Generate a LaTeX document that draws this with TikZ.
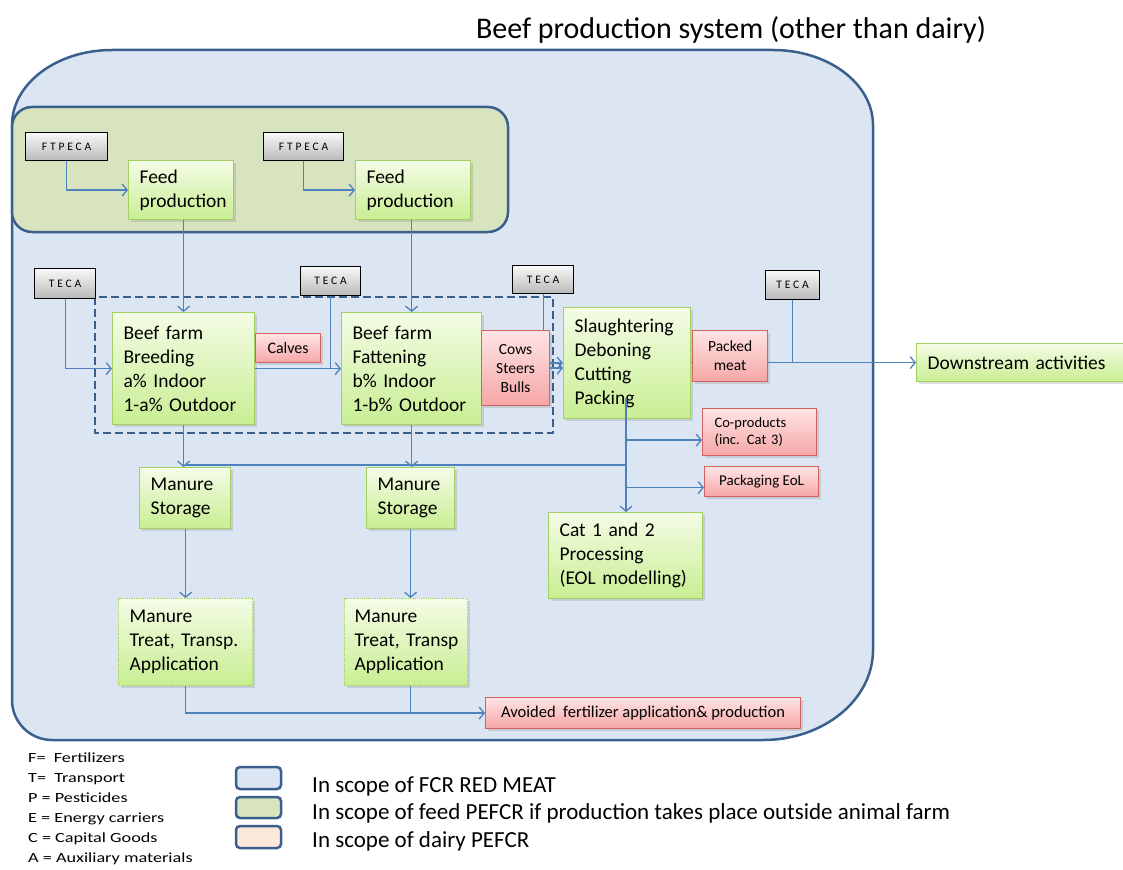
\documentclass[tikz,border=0pt]{standalone}
\usepackage{fontspec}
\setmainfont{Carlito}
\usetikzlibrary{arrows.meta,shadows}
\definecolor{scopefill}{HTML}{DCE6F2}
\definecolor{scopeline}{HTML}{3A5F8C}
\definecolor{feedfill}{HTML}{D7E4BD}
\definecolor{dairyfill}{HTML}{FDE9D9}
\definecolor{flowblue}{HTML}{4F81BD}
\definecolor{proctop}{HTML}{F4FCE6}
\definecolor{procbot}{HTML}{C8EE92}
\definecolor{procline}{HTML}{A2D062}
\definecolor{redtop}{HTML}{FFE4E4}
\definecolor{redbot}{HTML}{F6A6A6}
\definecolor{redline}{HTML}{D36262}
\pgfdeclarelayer{back}
\pgfdeclarelayer{mid}
\pgfsetlayers{back,mid,main}
\tikzset{
  procbox/.style={draw=procline, line width=1.2pt, top color=proctop, bottom color=procbot,
    anchor=north west, align=left, inner xsep=11pt, inner ysep=0pt,
    font=\fontsize{19.5}{24}\selectfont,
    drop shadow={shadow xshift=2pt, shadow yshift=-2pt, opacity=.25}},
  redbox/.style={draw=redline, line width=1.2pt, top color=redtop, bottom color=redbot,
    anchor=north west, align=center, inner sep=0pt,
    font=\fontsize{16}{19}\selectfont,
    drop shadow={shadow xshift=2pt, shadow yshift=-2pt, opacity=.25}},
  tecabox/.style={draw=black, line width=1.3pt, top color=gray!5, bottom color=gray!55,
    anchor=north west, inner sep=0pt,
    font=\fontsize{11.5}{12}\selectfont\addfontfeature{LetterSpace=25}},
  flow/.style={draw=flowblue, line width=1.3pt, -{Straight Barb[length=5pt,width=12pt]}},
  link/.style={draw=flowblue, line width=1.3pt},
  keybox/.style={draw=scopeline, line width=2.5pt, rounded corners=4pt}
}
\begin{document}
\begin{tikzpicture}[x=1pt,y=1pt]
\useasboundingbox (0,0) rectangle (1123,-869);
% title
\node[font=\fontsize{30}{34}\selectfont] (title) at (731,-30) {Beef production system (other than dairy)};

% boxes
\node[tecabox, minimum width=82, minimum height=28] (ftp1) at (25,-132) {FTPECA};
\node[tecabox, minimum width=80, minimum height=28] (ftp2) at (263,-132) {FTPECA};
\node[procbox, text width=83, minimum height=59] (feed1) at (128,-160) {Feed\\production};
\node[procbox, text width=93, minimum height=59] (feed2) at (355,-160) {Feed\\production};

\node[tecabox, minimum width=61, minimum height=30] (teca1) at (34,-268) {TECA};
\node[tecabox, minimum width=60, minimum height=29] (teca2) at (300,-266) {TECA};
\node[tecabox, minimum width=61, minimum height=28] (teca3) at (512,-265) {TECA};
\node[tecabox, minimum width=54, minimum height=29] (teca4) at (765,-270) {TECA};

\node[procbox, text width=120, minimum height=112] (breed) at (112,-312) {Beef farm\\Breeding\\a\% Indoor\\1-a\% Outdoor};
\node[redbox, minimum width=65, minimum height=29] (calves) at (255,-333) {Calves};
\node[procbox, text width=118, minimum height=112] (fatt) at (341,-312) {Beef farm\\Fattening\\b\% Indoor\\1-b\% Outdoor};
\node[redbox, minimum width=68, minimum height=75, font=\fontsize{15.5}{19}\selectfont] (cows) at (481,-330) {Cows\\Steers\\Bulls};
\node[procbox, text width=105, minimum height=111] (slau) at (563,-307) {Slaughtering\\Deboning\\Cutting\\Packing};
\node[redbox, minimum width=75, minimum height=51, font=\fontsize{15.5}{19}\selectfont] (packed) at (692,-330) {Packed\\meat};
\node[procbox, text width=185, minimum height=38] (down) at (916,-343) {Downstream activities};

\node[redbox, align=left, text width=90, minimum height=47, inner xsep=12pt,
  font=\fontsize{14.5}{17}\selectfont] (coprod) at (702,-408) {Co-products\\(inc. Cat 3)};
\node[redbox, minimum width=114, minimum height=30,
  font=\fontsize{15}{15}\selectfont] (packeol) at (704,-466) {Packaging EoL};
\node[procbox, text width=132, minimum height=86] (cat) at (548,-512) {Cat 1 and 2\\Processing\\(EOL modelling)};

\node[procbox, text width=69, minimum height=61] (ms1) at (139,-467) {Manure\\Storage};
\node[procbox, text width=66, minimum height=61] (ms2) at (366,-467) {Manure\\Storage};
\node[procbox, densely dotted, text width=112, minimum height=87] (mt1) at (118,-598) {Manure\\Treat,~Transp.\\Application};
\node[procbox, densely dotted, text width=103, inner xsep=10pt, minimum height=87] (mt2) at (344,-598) {Manure\\Treat,~Transp\\Application};
\node[redbox, minimum width=315, minimum height=31,
  font=\fontsize{16.5}{17}\selectfont] (avoid) at (485,-697) {Avoided\ \ fertilizer application\&{} production};

% scope areas
\begin{pgfonlayer}{back}
\draw[fill=scopefill, draw=scopeline, line width=2.5pt]
  (12,-700) -- (12,-125) arc[start angle=180, end angle=90, x radius=100, y radius=75]
  -- (773,-50) arc[start angle=90, end angle=0, x radius=100, y radius=75]
  -- (873,-650) arc[start angle=0, end angle=-90, x radius=110, y radius=90]
  -- (52,-740) arc[start angle=270, end angle=180, radius=40] -- cycle;
\draw[fill=feedfill, draw=scopeline, line width=2.5pt, rounded corners=20pt]
  (12,-107) rectangle (508,-232);
\end{pgfonlayer}

% flows
\begin{pgfonlayer}{mid}
\draw[scopeline, line width=2.4pt, dash pattern=on 8pt off 4pt] (95,-297) rectangle (553,-433);
\draw[flow] (ftp1.south) |- (feed1.west);
\draw[flow] (ftp2.south) |- (feed2.west);
\draw[flow] (breed.north |- feed1.south) -- (breed.north);
\draw[flow] (fatt.north |- feed2.south) -- (fatt.north);
\draw[flow] (teca1.south) |- (breed.west);
\draw[flow] (breed.east) -- (fatt.west);
\draw[link] (teca2.south) -- (teca2.south |- breed.east);
\draw[flow] (teca3.south) |- (slau.west);
\draw[flow] (cows.east) -- (cows.east -| slau.west);
\draw[link] (slau.east |- down.west) -- (packed.west |- down.west);
\draw[flow] (packed.east |- down.west) -- (down.west);
\draw[link] (teca4.south) -- (teca4.south |- down.west);
\draw[flow] (breed.south) -- (breed.south |- ms1.north);
\draw[flow] (fatt.south) -- (fatt.south |- ms2.north);
\draw[flow] (ms1.south -| mt1.north) -- (mt1.north);
\draw[flow] (ms2.south) -- (ms2.south |- mt2.north);
\draw[flow] (mt1.south) |- (avoid.west);
\draw[link] (ms2.south |- mt2.south) -- (ms2.south |- avoid.west);
\end{pgfonlayer}
\coordinate (pk) at (626,-398);
\draw[flow] (pk) -- (pk |- cat.north);
\draw[link] ([yshift=2]ms1.north) -- ([yshift=2]ms1.north -| pk);
\draw[flow] ([yshift=-8]coprod.west -| pk) -- ([yshift=-8]coprod.west);
\draw[flow] ([yshift=-6]packeol.west -| pk) -- ([yshift=-6]packeol.west);

% legend
\node[anchor=north west, align=left, inner sep=0pt,
  font=\fontsize{14}{20}\selectfont\addfontfeature{FakeStretch=1.3}] (abbr) at (28,-753)
  {F=\ \ Fertilizers\\T=\ \ Transport\\P = Pesticides\\E = Energy carriers\\C = Capital Goods\\A = Auxiliary materials};
\draw[keybox, fill=scopefill] (236,-767) rectangle (281,-789);
\draw[keybox, fill=feedfill] (236,-797) rectangle (281,-818);
\draw[keybox, fill=dairyfill] (236,-826) rectangle (281,-848);
\node[anchor=west, inner sep=0pt, font=\fontsize{23}{24}\selectfont] (key1) at (312,-786) {In scope of FCR RED MEAT};
\node[anchor=west, inner sep=0pt, font=\fontsize{23}{24}\selectfont] (key2) at (312,-813) {In scope of feed PEFCR if production takes place outside animal farm};
\node[anchor=west, inner sep=0pt, font=\fontsize{23}{24}\selectfont] (key3) at (312,-841) {In scope of dairy PEFCR};
\end{tikzpicture}
\end{document}
